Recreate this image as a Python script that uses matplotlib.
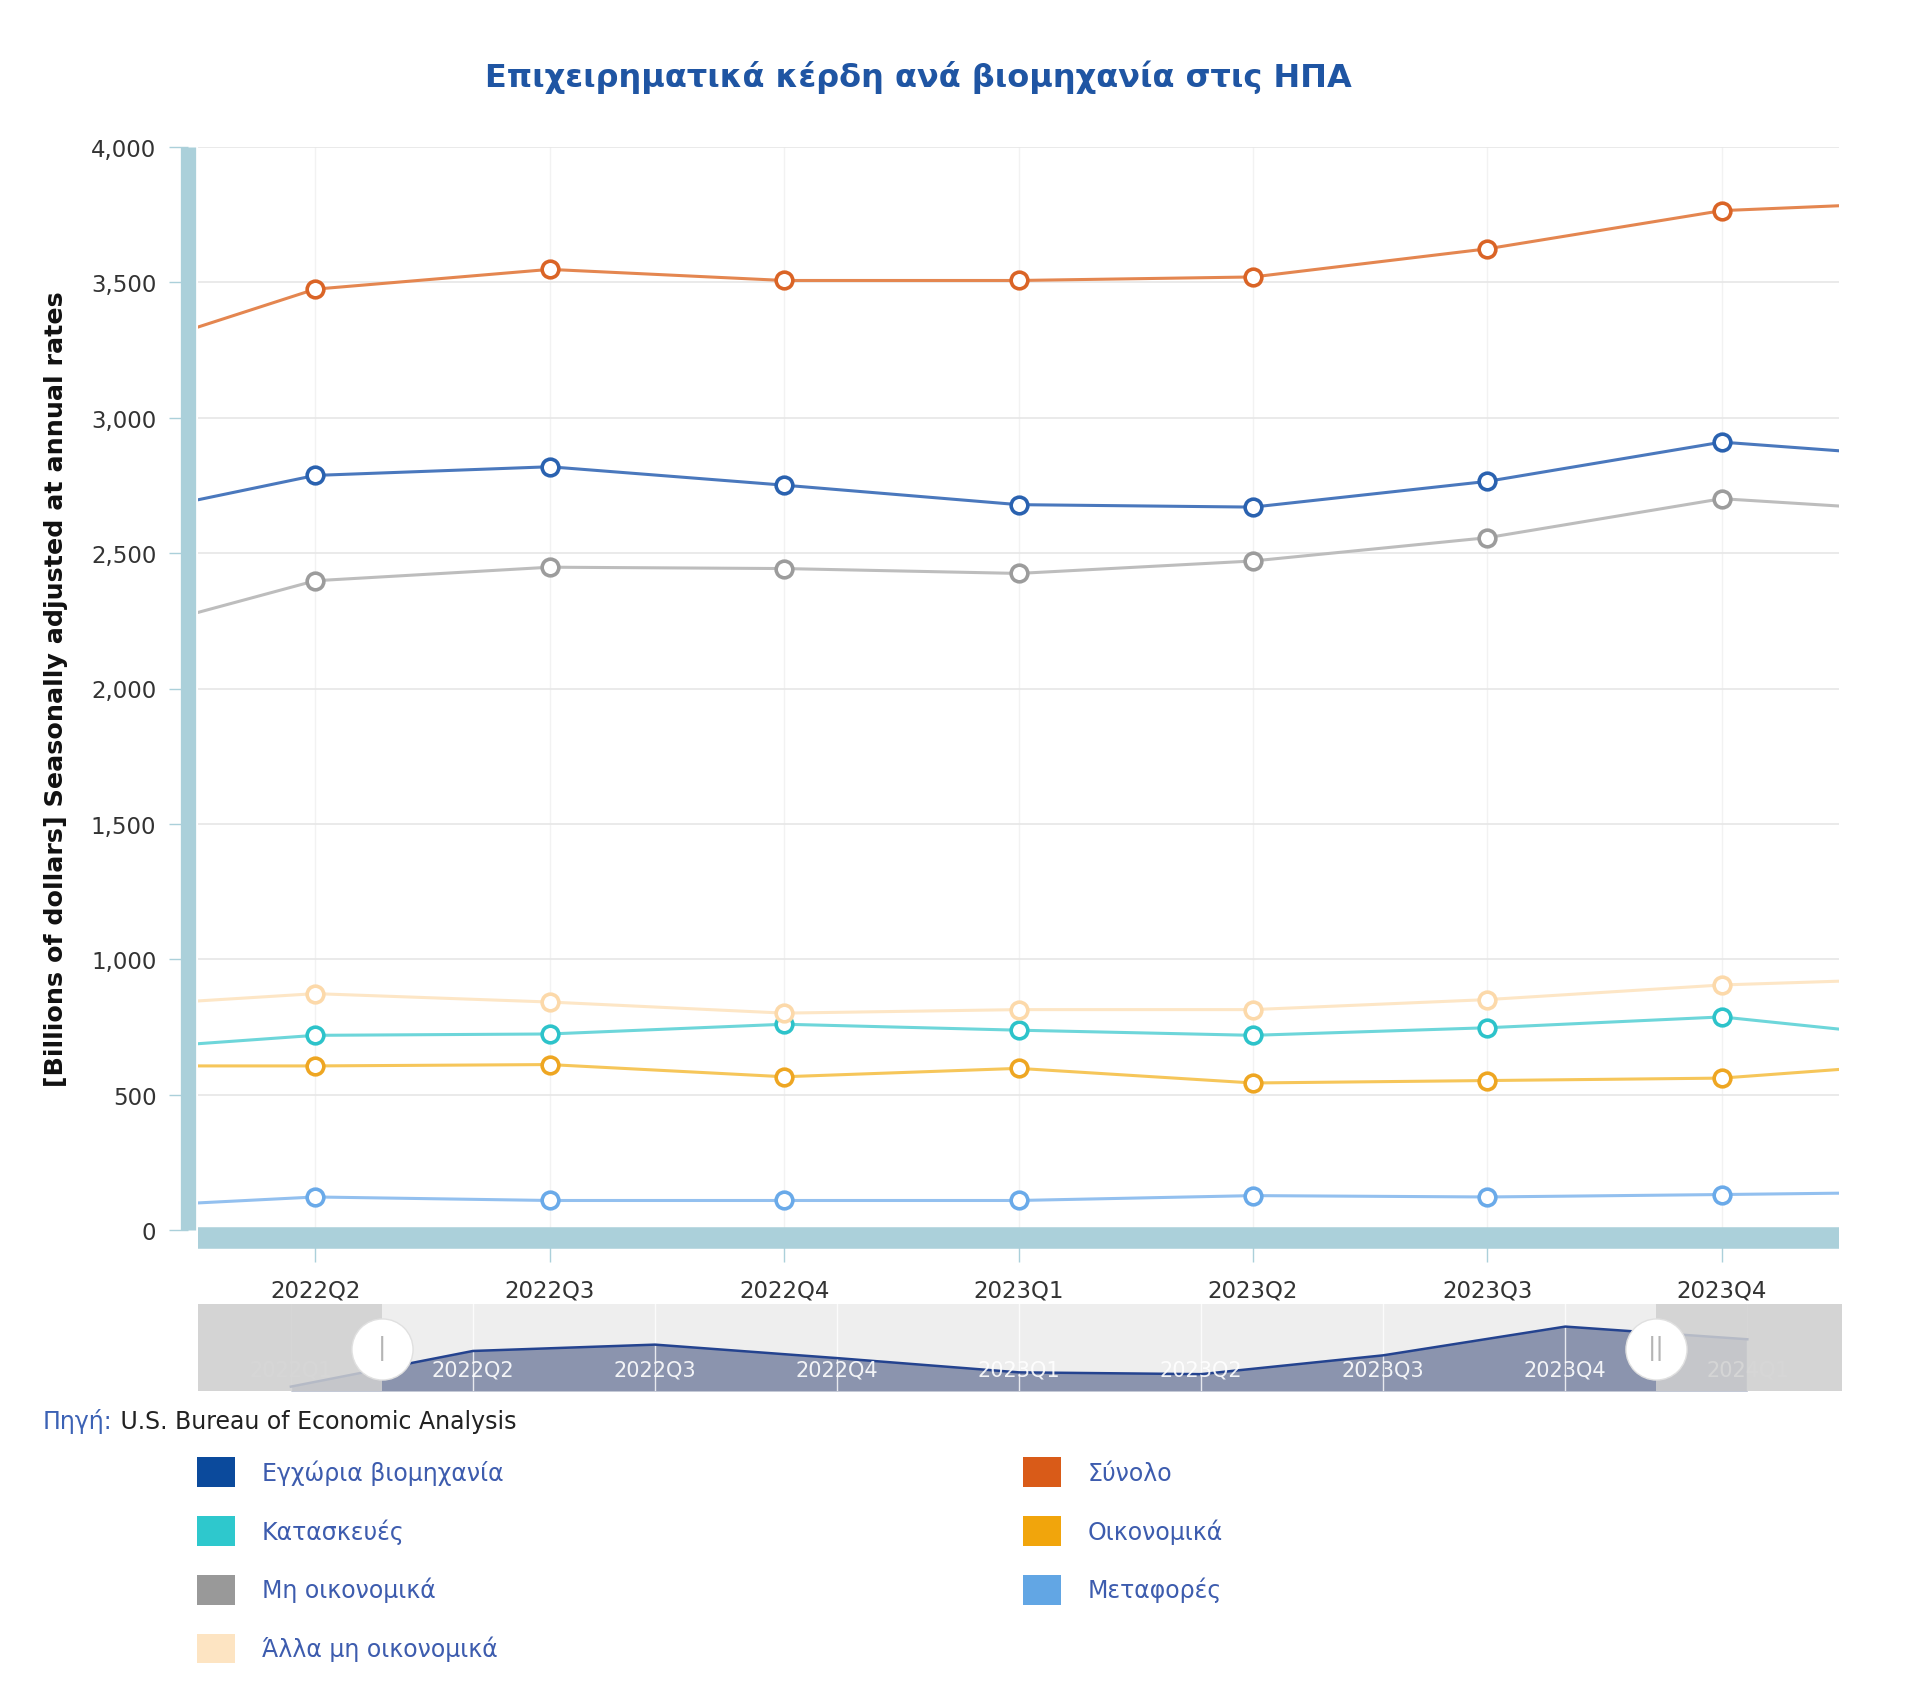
import numpy as np
import matplotlib
matplotlib.use("Agg")
import matplotlib.pyplot as plt
from matplotlib.patches import Patch

plt.rcParams['font.family'] = ['DejaVu Sans']

# Data (billions of dollars, SAAR); first and last quarters sit just outside the view
quarters = ['2022Q1', '2022Q2', '2022Q3', '2022Q4', '2023Q1',
            '2023Q2', '2023Q3', '2023Q4', '2024Q1']
total = [3195, 3475, 3548, 3507, 3507, 3520, 3624, 3765, 3801]
domestic = [2607, 2787, 2819, 2751, 2679, 2670, 2765, 2910, 2846]
nonfinancial = [2164, 2398, 2448, 2443, 2425, 2471, 2557, 2701, 2647]
other_nonfin = [819, 873, 842, 801, 814, 814, 851, 905, 933]
construction = [657, 719, 724, 760, 738, 719, 747, 787, 697]
financial = [606, 606, 611, 566, 597, 543, 552, 561, 625]
transport = [78, 122, 109, 109, 109, 127, 122, 131, 141]

# name, values, line colour, marker colour, legend colour
series = [
    ('Εγχώρια βιομηχανία', domestic, '#4a78bd', '#2a62b0', '#0b4a9c'),
    ('Σύνολο', total, '#e48650', '#da6426', '#d95b18'),
    ('Κατασκευές', construction, '#6dd6da', '#2dc3ca', '#2ec8cd'),
    ('Οικονομικά', financial, '#f6c65a', '#eea622', '#f1a50c'),
    ('Μη οικονομικά', nonfinancial, '#bdbdbd', '#9c9c9c', '#999999'),
    ('Μεταφορές', transport, '#93c0ef', '#6aaae9', '#62a6e4'),
    ('Άλλα μη οικονομικά', other_nonfin, '#fde6c6', '#fcd9aa', '#fde4c2'),
]
legend_order = [0, 2, 4, 6, 1, 3, 5]

W, H = 1920, 1706
fig = plt.figure(figsize=(W / 100, H / 100), dpi=100)

def fbox(x0, y0, x1, y1):
    return [x0 / W, 1 - y1 / H, (x1 - x0) / W, (y1 - y0) / H]

bar_col = '#abd0da'
x = np.arange(len(quarters))

ax = fig.add_axes(fbox(198, 148, 1839, 1231))
for name, vals, lc, mc, _ in series:
    ax.plot(x, vals, color=lc, lw=2.2, zorder=3)
    ax.plot(x, vals, ls='none', marker='o', ms=12, mfc='white', mec=mc, mew=2.6, zorder=4)

ax.set_xlim(0.5, 7.5)
ax.set_ylim(0, 4000)
ax.set_yticks(np.arange(0, 4001, 500))
ax.set_yticklabels([f'{v:,}' for v in range(0, 4001, 500)])
ax.set_xticks(x[1:8])
ax.set_xticklabels(quarters[1:8])
ax.grid(axis='y', color='#e6e6e6', lw=1.2, zorder=0)
ax.grid(axis='x', color='#f2f2f2', lw=1.0, zorder=0)
for s in ['top', 'right']:
    ax.spines[s].set_visible(False)
ax.spines['left'].set_position(('outward', 7))
ax.spines['left'].set_linewidth(11)
ax.spines['left'].set_color(bar_col)
ax.spines['left'].set_capstyle('butt')
ax.spines['bottom'].set_position(('outward', 6))
ax.spines['bottom'].set_linewidth(15.5)
ax.spines['bottom'].set_color(bar_col)
ax.spines['bottom'].set_capstyle('butt')
ax.tick_params(axis='y', length=14, width=1, color=bar_col, pad=9,
               labelsize=16.5, labelcolor='#333333')
ax.tick_params(axis='x', length=17, width=1, color=bar_col, pad=12,
               labelsize=16.5, labelcolor='#333333')
ax.set_ylabel('[Billions of dollars] Seasonally adjusted at annual rates',
              fontsize=18.3, fontweight='bold', color='#111111')
ax.yaxis.set_label_coords(-0.079, 0.5)

fig.text(918 / W, 1 - 77 / H, 'Επιχειρηματικά κέρδη ανά βιομηχανία στις ΗΠΑ',
         ha='center', va='center', fontsize=23, fontweight='bold', color='#1f55a3')

# navigator
nav = fig.add_axes(fbox(198, 1305, 1842, 1392))
nav.set_facecolor('#eeeeee')
nav.fill_between(x, domestic, 2585, color='#8b94ae', lw=0, zorder=2)
nav.plot(x, domestic, color='#24438f', lw=1.8, zorder=3)
nav.set_xlim(-0.51, 8.52)
nav.set_ylim(2585, 3024)
for xi, q in zip(x, quarters):
    nav.axvline(xi, color='white', lw=1, alpha=0.8, zorder=2.5)
    nav.text(xi, 0.25, q, transform=nav.get_xaxis_transform(), ha='center',
             va='center', fontsize=15, color='white', alpha=0.9, zorder=3.5)
nav.axvspan(-0.51, 0.5, color='#d0d0d0', alpha=0.85, lw=0, zorder=4)
nav.axvspan(7.5, 8.52, color='#d0d0d0', alpha=0.85, lw=0, zorder=4)
nav.plot([0.5, 7.5], [0.48, 0.48], ls='none', marker='o', ms=44, mfc='white',
         mec='#e0e0e0', mew=1, transform=nav.get_xaxis_transform(), zorder=5, clip_on=False)
nav.text(0.5, 0.5, '|', transform=nav.get_xaxis_transform(), ha='center', va='center',
         fontsize=18, color='#b5b5b5', zorder=6)
nav.text(7.5, 0.5, '||', transform=nav.get_xaxis_transform(), ha='center', va='center',
         fontsize=18, color='#b5b5b5', zorder=6)
nav.set_xticks([])
nav.set_yticks([])
for s in nav.spines.values():
    s.set_visible(False)

# source line
src = fig.text(43 / W, 1 - 1422 / H, 'Πηγή:', ha='left', va='center',
               fontsize=17, color='#3c62b5')
fig.add_artist(plt.Annotation(' U.S. Bureau of Economic Analysis', xy=(1, 0.5),
                              xycoords=src, ha='left', va='center',
                              fontsize=17, color='#222222'))

# legend: second column squares start at x=1023px
leg_fs = 17
fs_px = leg_fs * 100 / 72
labels = [series[i][0] for i in legend_order]
renderer = fig.canvas.get_renderer()
probe = fig.text(0, 0, labels[0], fontsize=leg_fs)
col1_w = max(probe.set_text(l) or probe.get_window_extent(renderer).width for l in labels[:4])
probe.remove()
col1_text_end = 262 + col1_w
colspace = (1023 - col1_text_end) / fs_px

handles = [Patch(facecolor=series[i][4], edgecolor='none') for i in legend_order]
fig.legend(handles, labels, ncol=2, loc='upper left',
           bbox_to_anchor=(197 / W, 1 - 1458 / H), frameon=False, fontsize=leg_fs,
           labelcolor='#3d5cae', handlelength=38 / fs_px, handleheight=37 / fs_px,
           handletextpad=27 / fs_px, labelspacing=29 / fs_px, columnspacing=colspace,
           borderpad=0, borderaxespad=0)

fig.savefig('out.png', dpi=100)
